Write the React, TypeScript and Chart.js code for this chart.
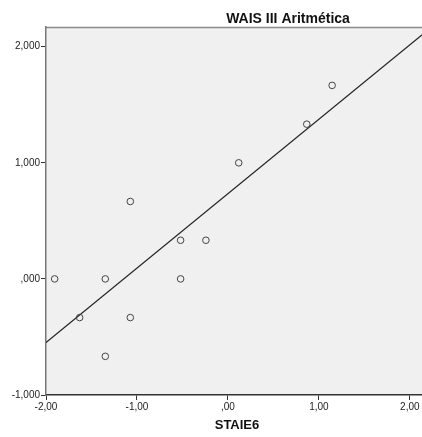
import React, { useEffect, useRef } from "react";
import { Chart, registerables } from "chart.js";

Chart.register(...registerables);

const staie6 = [-1.905, -1.63, -1.348, -1.348, -1.073, -1.073, -0.52, -0.52, -0.242, 0.119, 0.867, 1.146];
const waisArit = [0, -0.333, 0, -0.667, 0.667, -0.333, 0.333, 0, 0.333, 1.0, 1.333, 1.667];
const fitX = [-2, 2.2];
const fitY = [-0.547, 2.145];
const xTicks = [-2, -1, 0, 1, 2];
const xTickLabels = ["-2,00", "-1,00", ",00", "1,00", "2,00"];
const yTicks = [-1, 0, 1, 2];
const yTickLabels = ["-1,000", ",000", "1,000", "2,000"];
const chartTitle = "WAIS III Aritmética";
const xTitle = "STAIE6";

const FONT = "'Liberation Sans', Arial, sans-serif";

export default function App() {
  const ref = useRef<HTMLCanvasElement | null>(null);
  useEffect(() => {
    if (!ref.current) return;
    const bgPlugin = {
      id: "bgPlugin",
      beforeDraw(chart: any) {
        const { ctx, chartArea } = chart;
        ctx.save();
        ctx.fillStyle = "#f0f0f0";
        ctx.fillRect(chartArea.left, chartArea.top, chartArea.right - chartArea.left, chartArea.bottom - chartArea.top);
        ctx.strokeStyle = "#8a8a8a";
        ctx.lineWidth = 1.5;
        ctx.beginPath();
        ctx.moveTo(chartArea.left, chartArea.top + 0.5);
        ctx.lineTo(chartArea.right, chartArea.top + 0.5);
        ctx.stroke();
        ctx.restore();
      },
      afterDraw(chart: any) {
        const { ctx } = chart;
        ctx.save();
        ctx.font = `bold 14px ${FONT}`;
        ctx.fillStyle = "#111";
        ctx.textAlign = "center";
        ctx.textBaseline = "middle";
        ctx.fillText(chartTitle, 288, 19);
        ctx.restore();
      },
    };
    const chart = new Chart(ref.current, {
      type: "scatter",
      data: {
        datasets: [
          {
            type: "line",
            data: fitX.map((x, i) => ({ x, y: fitY[i] })),
            borderColor: "#222",
            borderWidth: 1.2,
            pointRadius: 0,
            fill: false,
            tension: 0,
            order: 2,
          } as any,
          {
            data: staie6.map((x, i) => ({ x, y: waisArit[i] })),
            pointRadius: 3.3,
            pointBackgroundColor: "rgba(0,0,0,0)",
            pointBorderColor: "#444",
            pointBorderWidth: 1,
            order: 1,
          },
        ],
      },
      options: {
        animation: false,
        responsive: false,
        layout: { padding: { top: 27, right: 0, left: 0, bottom: 0 } },
        plugins: { legend: { display: false }, tooltip: { enabled: false }, title: { display: false } },
        scales: {
          x: {
            type: "linear",
            min: -2,
            max: 2.2,
            afterFit(scale: any) {
              scale.height = 42;
            },
            afterBuildTicks(scale: any) {
              scale.ticks = xTicks.map((v) => ({ value: v }));
            },
            ticks: {
              autoSkip: false,
              maxRotation: 0,
              padding: 1,
              color: "#222",
              font: { family: FONT, size: 10 },
              callback: (v: any) => {
                const i = xTicks.indexOf(Number(v));
                return i >= 0 ? xTickLabels[i] : "";
              },
            },
            grid: { drawOnChartArea: false, drawTicks: true, tickLength: 5, color: "#333", lineWidth: 1 },
            border: { display: true, color: "#333", width: 1.5 },
            title: { display: true, text: xTitle, color: "#111", font: { family: FONT, size: 13, weight: "bold" }, padding: { top: 9 } },
          },
          y: {
            type: "linear",
            min: -1,
            max: 2.17,
            afterFit(scale: any) {
              scale.width = 46;
            },
            afterBuildTicks(scale: any) {
              scale.ticks = yTicks.map((v) => ({ value: v }));
            },
            ticks: {
              autoSkip: false,
              padding: 1,
              color: "#222",
              font: { family: FONT, size: 10 },
              callback: (v: any) => {
                const i = yTicks.indexOf(Number(v));
                return i >= 0 ? yTickLabels[i] : "";
              },
            },
            grid: { drawOnChartArea: false, drawTicks: true, tickLength: 5, color: "#333", lineWidth: 1 },
            border: { display: true, color: "#777", width: 1.5 },
          },
        },
      },
      plugins: [bgPlugin],
    });
    return () => chart.destroy();
  }, []);
  return (
    <div style={{ position: "fixed", left: 0, top: 0, width: 422, height: 437, background: "#fff", overflow: "hidden" }}>
      <canvas ref={ref} width={433} height={437} style={{ display: "block" }} />
    </div>
  );
}
